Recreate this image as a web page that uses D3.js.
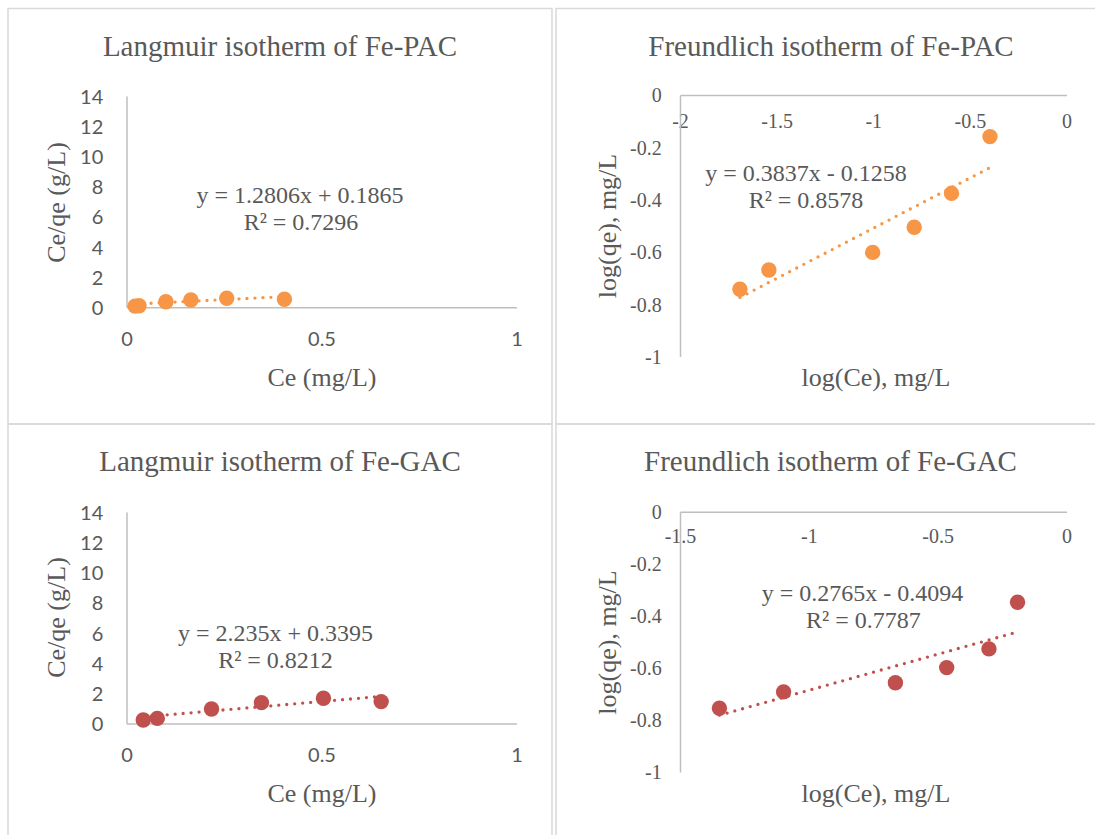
<!DOCTYPE html>
<html>
<head>
<meta charset="utf-8">
<script src="https://cdn.jsdelivr.net/npm/d3@7"></script>
<style>
body{margin:0;background:#fff;}
svg{display:block;}
</style>
</head>
<body>
<script>
// values
var langPacCe = [0.022, 0.032, 0.101, 0.165, 0.257, 0.405];
var langPacRatio = [0.08, 0.10, 0.37, 0.48, 0.60, 0.53];
var langGacCe = [0.043, 0.079, 0.218, 0.346, 0.505, 0.653];
var langGacRatio = [0.23, 0.34, 0.96, 1.38, 1.67, 1.45];
var frPacLogCe = [-1.690, -1.540, -1.003, -0.788, -0.595, -0.396];
var frPacLogQe = [-0.743, -0.669, -0.602, -0.506, -0.376, -0.159];
var frGacLogCe = [-1.347, -1.098, -0.664, -0.465, -0.301, -0.190];
var frGacLogQe = [-0.755, -0.692, -0.657, -0.599, -0.527, -0.348];

// linear trendlines [slope, intercept] and their labels
var langPacFit = [1.2806, 0.1865];
var langGacFit = [2.235, 0.3395];
var frPacFit = [0.3837, -0.1258];
var frGacFit = [0.2765, -0.4094];
var eqLabels = ["y = 1.2806x + 0.1865", "y = 0.3837x - 0.1258", "y = 2.235x + 0.3395", "y = 0.2765x - 0.4094"];
var r2Labels = ["R\u00b2 = 0.7296", "R\u00b2 = 0.8578", "R\u00b2 = 0.8212", "R\u00b2 = 0.7787"];

var titles = ["Langmuir isotherm of Fe-PAC", "Freundlich isotherm of Fe-PAC", "Langmuir isotherm of Fe-GAC", "Freundlich isotherm of Fe-GAC"];
var xTitles = ["Ce (mg/L)", "log(Ce), mg/L", "Ce (mg/L)", "log(Ce), mg/L"];
var yTitles = ["Ce/qe (g/L)", "log(qe), mg/L", "Ce/qe (g/L)", "log(qe), mg/L"];

// axis ticks
var langXTicks = [0, 0.5, 1];
var langYTicks = [0, 2, 4, 6, 8, 10, 12, 14];
var frPacXTicks = [-2, -1.5, -1, -0.5, 0];
var frGacXTicks = [-1.5, -1, -0.5, 0];
var frYTicks = [0, -0.2, -0.4, -0.6, -0.8, -1];

var orange = "#f79646", red = "#c0504d";
var textGray = "#595959", axisGray = "#bfbfbf", frameGray = "#d9d9d9";
var serif = "'Liberation Serif', 'Times New Roman', serif";
var sans = "Lato, Calibri, sans-serif";

var width = 1095, height = 835;
var svg = d3.select("body").append("svg")
    .attr("width", width)
    .attr("height", height);

// one entry per chart box: data first, then where things go
var panels = [
  {xs: langPacCe, ys: langPacRatio, fit: langPacFit, color: orange,
   xDom: [0, 1], yDom: [0, 14], xTicks: langXTicks, yTicks: langYTicks, tickFont: sans,
   frame: [8, 8.5, 544, 415.5], xr: [126.5, 516.5], yr: [307.3, 96],
   xTickY: 339.3, yTickX: 103.3, title: [280, 46.7], xTitle: [322, 377], yTitle: [65, 202.5],
   eq: [300, 195], r2: [301, 221.7]},
  {xs: frPacLogCe, ys: frPacLogQe, fit: frPacFit, color: orange,
   xDom: [-2, 0], yDom: [-1, 0], xTicks: frPacXTicks, yTicks: frYTicks, tickFont: serif,
   frame: [556, 8.5, 600, 415.5], xr: [680, 1066.5], yr: [356.5, 95],
   xTickY: 120.7, yTickX: 661.7, title: [831, 46.7], xTitle: [876, 377], yTitle: [616, 226],
   eq: [806, 173.3], r2: [806, 200]},
  {xs: langGacCe, ys: langGacRatio, fit: langGacFit, color: red,
   xDom: [0, 1], yDom: [0, 14], xTicks: langXTicks, yTicks: langYTicks, tickFont: sans,
   frame: [8, 424, 544, 420], xr: [126.5, 516.5], yr: [723.5, 512],
   xTickY: 755, yTickX: 103.3, title: [280, 461.7], xTitle: [322, 793.3], yTitle: [65, 617.5],
   eq: [275.5, 633.3], r2: [275.5, 660]},
  {xs: frGacLogCe, ys: frGacLogQe, fit: frGacFit, color: red,
   xDom: [-1.5, 0], yDom: [-1, 0], xTicks: frGacXTicks, yTicks: frYTicks, tickFont: serif,
   frame: [556, 424, 600, 420], xr: [680, 1066.5], yr: [772, 511.7],
   xTickY: 536.7, yTickX: 661.7, title: [830.5, 461.7], xTitle: [876, 793.3], yTitle: [616, 642.5],
   eq: [862.5, 593.3], r2: [863.3, 620]}
];

panels.forEach(function(p, i){
    drawPanel(p, i);
});

function drawPanel(p, i){
    var g = svg.append("g");

    //chart box
    g.append("rect")
        .attr("x", p.frame[0]).attr("y", p.frame[1])
        .attr("width", p.frame[2]).attr("height", p.frame[3])
        .attr("fill", "none")
        .attr("stroke", frameGray)
        .attr("stroke-width", 1.5);

    var x = d3.scaleLinear().domain(p.xDom).range(p.xr);
    var y = d3.scaleLinear().domain(p.yDom).range(p.yr);

    //x axis sits on y = 0, y axis on the left end of x
    var x0 = y(0), y0 = x(p.xDom[0]);
    var tickSize = p.tickFont == sans ? 20 : 20;
    var lift = p.tickFont == sans ? 0.36 : 0.34;

    var gx = g.append("g")
        .attr("transform", "translate(0," + x0 + ")")
        .call(d3.axisBottom(x).tickValues(p.xTicks).tickSize(0).tickFormat(String));
    gx.attr("font-family", p.tickFont).attr("font-size", tickSize);
    gx.selectAll("text")
        .attr("y", p.xTickY - x0)
        .attr("dy", lift + "em")
        .attr("fill", textGray);

    var gy = g.append("g")
        .attr("transform", "translate(" + y0 + ",0)")
        .call(d3.axisLeft(y).tickValues(p.yTicks).tickSize(0).tickFormat(String));
    gy.attr("font-family", p.tickFont).attr("font-size", tickSize);
    gy.selectAll("text")
        .attr("x", p.yTickX - y0)
        .attr("dy", lift + "em")
        .attr("fill", textGray);

    g.selectAll(".domain")
        .attr("stroke", axisGray)
        .attr("stroke-width", 1.5);

    //dotted trendline over the data range
    var xmin = d3.min(p.xs), xmax = d3.max(p.xs);
    var line = d3.line()
        .x(function(d){ return x(d); })
        .y(function(d){ return y(p.fit[0] * d + p.fit[1]); });

    //markers
    g.selectAll(".pt")
        .data(p.xs)
        .enter()
        .append("circle")
        .attr("class", "pt")
        .attr("cx", function(d){ return x(d); })
        .attr("cy", function(d, k){ return y(p.ys[k]); })
        .attr("r", 7.7)
        .attr("fill", p.color);

    g.append("path")
        .datum([xmin, xmax])
        .attr("d", line)
        .attr("fill", "none")
        .attr("stroke", p.color)
        .attr("stroke-width", 3.3)
        .attr("stroke-linecap", "round")
        .attr("stroke-dasharray", "0 8");

    //texts
    g.append("text")
        .attr("x", p.title[0]).attr("y", p.title[1])
        .attr("dy", "0.33em")
        .attr("text-anchor", "middle")
        .attr("font-family", serif).attr("font-size", 29)
        .attr("fill", textGray)
        .text(titles[i]);

    g.append("text")
        .attr("x", p.xTitle[0]).attr("y", p.xTitle[1])
        .attr("dy", "0.33em")
        .attr("text-anchor", "middle")
        .attr("font-family", serif).attr("font-size", 26)
        .attr("fill", textGray)
        .text(xTitles[i]);

    g.append("text")
        .attr("transform", "translate(" + p.yTitle[0] + "," + p.yTitle[1] + ") rotate(-90)")
        .attr("text-anchor", "middle")
        .attr("font-family", serif).attr("font-size", 26)
        .attr("fill", textGray)
        .text(yTitles[i]);

    g.append("text")
        .attr("x", p.eq[0]).attr("y", p.eq[1])
        .attr("dy", "0.34em")
        .attr("text-anchor", "middle")
        .attr("font-family", serif).attr("font-size", 24)
        .attr("fill", textGray)
        .text(eqLabels[i]);

    g.append("text")
        .attr("x", p.r2[0]).attr("y", p.r2[1])
        .attr("dy", "0.34em")
        .attr("text-anchor", "middle")
        .attr("font-family", serif).attr("font-size", 24)
        .attr("fill", textGray)
        .text(r2Labels[i]);
}
</script>
</body>
</html>
